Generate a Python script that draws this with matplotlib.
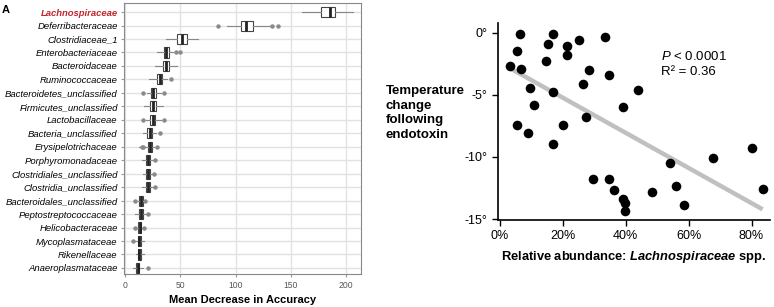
import numpy as np
import matplotlib.pyplot as plt

plt.rcParams['font.family'] = ['Liberation Sans', 'DejaVu Sans']
plt.rcParams['mathtext.fontset'] = 'custom'
plt.rcParams['mathtext.rm'] = 'Liberation Sans'
plt.rcParams['mathtext.it'] = 'Liberation Sans:italic'
plt.rcParams['mathtext.bf'] = 'Liberation Sans:bold'
plt.rcParams['mathtext.bfit'] = 'Liberation Sans:bold:italic'

# ---- panel A: variable importance (Mean Decrease in Accuracy) ----
families = ["Lachnospiraceae", "Deferribacteraceae", "Clostridiaceae_1",
            "Enterobacteriaceae", "Bacteroidaceae", "Ruminococcaceae",
            "Bacteroidetes_unclassified", "Firmicutes_unclassified",
            "Lactobacillaceae", "Bacteria_unclassified", "Erysipelotrichaceae",
            "Porphyromonadaceae", "Clostridiales_unclassified",
            "Clostridia_unclassified", "Bacteroidales_unclassified",
            "Peptostreptococcaceae", "Helicobacteraceae", "Mycoplasmataceae",
            "Rikenellaceae", "Anaeroplasmataceae"]

whis_lo = [160, 92, 37.5, 29, 27, 21.6, 20, 17, 18.6, 16, 13, 15, 16, 15, 11.5, 9, 11, 9, 10, 7]
q1 = [177.5, 105, 47.4, 35.4, 34.5, 29.4, 23.4, 23, 22.5, 20, 20.4, 18.6, 18.6, 18.6, 13, 12.6, 12, 11.4, 11.4, 9.9]
med = [185, 109.6, 51.9, 37.5, 37.1, 31.5, 25.5, 25.5, 24.9, 22.2, 22.5, 20.4, 20.4, 20.4, 14.4, 14.1, 13.2, 12.9, 12.6, 11.4]
q3 = [190, 115.6, 56.1, 40.2, 39.6, 33.9, 27.9, 28, 27, 24.6, 24.6, 22.5, 22.5, 22.5, 15.9, 15.9, 14.4, 14.4, 14.4, 12.9]
whis_hi = [206, 131, 66, 43.5, 46.6, 38.4, 33, 34.5, 33, 28, 26.5, 25, 24.3, 25, 17, 18.6, 15.5, 17.4, 17, 16.5]
outliers = [[], [84, 133, 138], [], [46.5, 49.5], [], [42], [16, 35.5], [],
            [16, 35.4], [31.8], [15, 16.5, 29], [27], [26.1], [27],
            [9.5, 18.5], [20.4], [9, 17], [7.5], [], [20.4]]

# ---- panel B: temperature vs Lachnospiraceae abundance ----
abundance = [3.3, 5.6, 6.5, 6.9, 5.4, 9.6, 10.9, 9.0, 14.6, 15.4, 16.9, 17.0,
             16.9, 21.5, 21.5, 20.1, 25.3, 26.5, 28.5, 27.5, 29.7, 33.5, 34.7,
             34.8, 36.3, 39.2, 39.2, 39.8, 39.9, 44.0, 48.5, 54.1, 55.9, 58.7,
             67.7, 80.1, 83.5]
temp_change = [-2.65, -1.49, -0.08, -2.89, -7.46, -4.46, -5.78, -8.05, -2.24,
               -0.89, -0.08, -4.78, -8.95, -1.08, -1.76, -7.46, -0.57, -4.08,
               -2.97, -6.76, -11.78, -0.35, -3.38, -11.78, -12.65, -5.97, -13.4,
               -13.68, -14.38, -4.59, -12.86, -10.46, -12.35, -13.86, -10.05,
               -9.27, -12.57]

fig = plt.figure(figsize=(7.74, 3.07), dpi=100)

# left panel
ax = fig.add_axes([0.160, 0.1075, 0.306, 0.8825])
n = len(families)
stats = []
for i in range(n):
    stats.append(dict(med=med[i], q1=q1[i], q3=q3[i], whislo=whis_lo[i],
                      whishi=whis_hi[i], fliers=outliers[i]))
ax.bxp(stats, positions=range(n), orientation='horizontal', widths=0.75,
       patch_artist=True,
       boxprops=dict(facecolor='white', edgecolor='#444444', linewidth=0.8),
       medianprops=dict(color='#222222', linewidth=2.0),
       whiskerprops=dict(color='#888888', linewidth=0.8),
       capprops=dict(linewidth=0),
       flierprops=dict(marker='o', markersize=2.2, markerfacecolor='#8a8a8a',
                       markeredgecolor='#8a8a8a'),
       zorder=3)
ax.set_xlim(-1, 213)
ax.set_ylim(n - 1 + 0.45, -0.67)
ax.set_xticks([0, 50, 100, 150, 200])
ax.set_yticks(range(n))
ax.set_yticklabels(families, fontstyle='italic', fontsize=6.8)
lab0 = ax.get_yticklabels()[0]
lab0.set_color('#c0272d')
lab0.set_fontweight('bold')
ax.tick_params(axis='x', labelsize=6.2, labelcolor='#555555', length=2,
               color='#999999', pad=3)
ax.tick_params(axis='y', length=2, color='#999999', pad=2.5)
ax.grid(True, color='#e2e2e2', linewidth=1.0, zorder=0)
ax.set_axisbelow(True)
for s in ax.spines.values():
    s.set_color('#888888')
    s.set_linewidth(0.8)
ax.set_xlabel('Mean Decrease in Accuracy', fontsize=8, fontweight='bold',
              labelpad=4)

fig.text(0.002, 0.985, 'A', fontsize=8, fontweight='bold', va='top')

# right panel
bx = fig.add_axes([0.6434, 0.2834, 0.3516, 0.6416])
bx.scatter(abundance, temp_change, s=48, color='black', zorder=3,
           linewidths=0)
slope, intercept = np.polyfit(abundance, temp_change, 1)
xs = np.array([min(abundance), max(abundance)])
bx.plot(xs, slope * xs + intercept, color='#c0c0c0', linewidth=3.2,
        solid_capstyle='butt', zorder=2)
bx.set_xlim(-0.5, 85.9)
bx.set_ylim(-15.08, 0.8)
bx.set_xticks([0, 20, 40, 60, 80])
bx.set_xticklabels(['0%', '20%', '40%', '60%', '80%'])
bx.set_yticks([0, -5, -10, -15])
bx.set_yticklabels(['0°', '-5°', '-10°', '-15°'])
bx.tick_params(labelsize=9, length=4, width=1, color='black', direction='out')
bx.spines['top'].set_visible(False)
bx.spines['right'].set_visible(False)
bx.spines['left'].set_linewidth(1.2)
bx.spines['bottom'].set_linewidth(1.2)
bx.set_xlabel('Relative abundance: $\\mathbfit{Lachnospiraceae}$ spp.',
              fontsize=9.3, fontweight='bold', labelpad=5)
fig.text(0.4987, 0.723, 'Temperature\nchange\nfollowing\nendotoxin',
         fontsize=9.5, fontweight='bold', va='top', ha='left',
         linespacing=1.3)
bx.text(0.598, 0.79, '$\\it{P}$ < 0.0001\nR² = 0.36', transform=bx.transAxes,
        fontsize=9.5, va='center', ha='left', linespacing=1.35)

fig.savefig('out.png', dpi=100)
